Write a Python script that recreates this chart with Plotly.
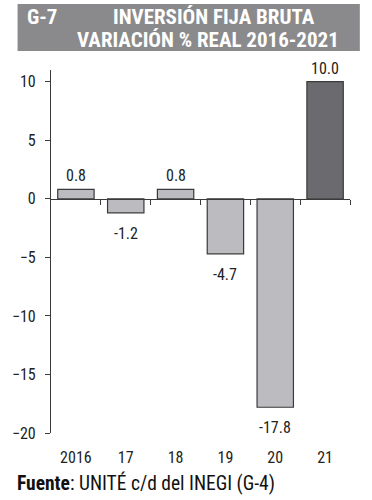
import plotly.graph_objects as go

categories = ["2016", "17", "18", "19", "20", "21"]
values = [0.8, -1.2, 0.8, -4.7, -17.8, 10.0]
labels = ["0.8", "-1.2", "0.8", "-4.7", "-17.8", "10.0"]
y_ticks = [10, 5, 0, -5, -10, -15, -20]
title_tag = "G-7"
title_line1 = "INVERSIÓN FIJA BRUTA"
title_line2 = "VARIACIÓN % REAL 2016-2021"
source = "<b>Fuente</b>: UNITÉ c/d del INEGI (G-4)"

W, H = 372, 500
L, R, T, B = 46, 22, 70, 67
PW, PH = W - L - R, H - T - B
YMIN, YMAX = -20, 11
FONT = "Liberation Sans Narrow, Roboto Condensed, Roboto, sans-serif"

def px(x):
    return (x - L) / PW

def py(y):
    return (H - B - y) / PH

light = "#bcbcc0"
dark = "#6b6b6f"
colors = [light] * (len(values) - 1) + [dark]

fig = go.Figure()
fig.add_trace(go.Bar(
    x=categories, y=values,
    marker=dict(color=colors, line=dict(color="#3a3a3a", width=1.2)),
    width=0.73, hoverinfo="skip",
))
# helper axis for zero line with boundary ticks
n = len(categories)
fig.add_trace(go.Scatter(x=list(range(n)), y=[None] * n, xaxis="x2", yaxis="y",
                         mode="markers", showlegend=False, hoverinfo="skip"))

zero_pos = (0 - YMIN) / (YMAX - YMIN)

annotations = []
for i, (v, t) in enumerate(zip(values, labels)):
    pos = v >= 0
    annotations.append(dict(
        text=t, x=i, y=v, xref="x", yref="y", showarrow=False,
        xanchor="center", yanchor="bottom" if pos else "top",
        yshift=2 if pos else -9,
        font=dict(size=16, color="#222", family=FONT)))

annotations += [
    dict(text="<b>" + title_tag + "</b>", xref="paper", yref="paper", x=px(20), y=py(17),
         xanchor="left", yanchor="middle", showarrow=False,
         font=dict(size=21, color="white", family=FONT)),
    dict(text="<b>" + title_line1 + "</b>", xref="paper", yref="paper", x=px(212), y=py(17),
         xanchor="center", yanchor="middle", showarrow=False,
         font=dict(size=21, color="white", family=FONT)),
    dict(text="<b>" + title_line2 + "</b>", xref="paper", yref="paper", x=px(206), y=py(40),
         xanchor="center", yanchor="middle", showarrow=False,
         font=dict(size=21, color="white", family=FONT)),
    dict(text=source, xref="paper", yref="paper", x=px(9), y=py(483),
         xanchor="left", yanchor="middle", showarrow=False,
         font=dict(size=19.5, color="#111", family=FONT)),
]

fig.update_layout(
    width=W, height=H, margin=dict(l=L, r=R, t=T, b=B),
    plot_bgcolor="white", paper_bgcolor="white", showlegend=False,
    font=dict(family=FONT, color="#222"),
    xaxis=dict(type="category", range=[-0.5, n - 0.5], showline=False, ticks="",
               showgrid=False, zeroline=False, tickfont=dict(size=16, color="#222"),
               ticklabelstandoff=13),
    xaxis2=dict(type="linear", overlaying="x", anchor="free", position=zero_pos,
                range=[-0.5, n - 0.5], tickmode="array",
                tickvals=[i + 0.5 for i in range(n)], ticks="outside", ticklen=5,
                tickwidth=1.2, tickcolor="#3a3a3a", showline=True, linecolor="#3a3a3a",
                linewidth=1.2, showticklabels=False, showgrid=False, zeroline=False),
    yaxis=dict(range=[YMIN, YMAX], tickmode="array", tickvals=y_ticks,
               ticks="outside", ticklen=5, tickwidth=1.2, tickcolor="#3a3a3a",
               showline=True, linecolor="#3a3a3a", linewidth=1.2,
               showgrid=False, zeroline=False, tickfont=dict(size=16, color="#222"),
               ticklabelstandoff=6),
    shapes=[dict(type="rect", xref="paper", yref="paper",
                 x0=px(12), x1=px(360), y0=py(51), y1=py(4),
                 fillcolor="#8a8a8c", line=dict(width=0), layer="below")],
    annotations=annotations,
)

fig.write_html("out.html")
